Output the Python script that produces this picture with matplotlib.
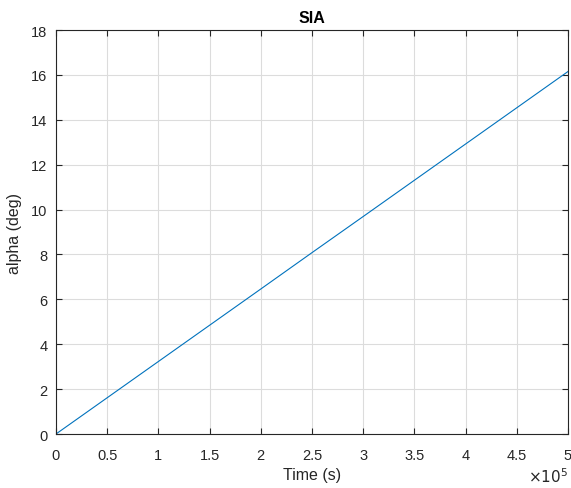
#!/usr/bin/env python3
"""SIA: alpha over time, MATLAB-like look"""
import matplotlib
matplotlib.use('Agg')
import matplotlib.pyplot as plt
from matplotlib.ticker import FuncFormatter, MultipleLocator

# values
time_s = [0.0, 1.0e5, 2.0e5, 2.5e5, 3.0e5, 4.0e5, 5.0e5]
alpha_deg = [0.0, 3.23, 6.46, 8.08, 9.69, 12.92, 16.15]

plt.rcParams['font.family'] = ['Liberation Sans', 'DejaVu Sans']
dark = '#262626'

fig = plt.figure(figsize=(5.71, 4.89), dpi=100)
ax = fig.add_axes([0.098, 0.1104, 0.8967, 0.8262])

ax.plot(time_s, alpha_deg, color='#0072BD', lw=0.8)

ax.set_xlim(0, 5e5)
ax.set_ylim(0, 18)
ax.xaxis.set_major_locator(MultipleLocator(0.5e5))
ax.yaxis.set_major_locator(MultipleLocator(2))
ax.xaxis.set_major_formatter(FuncFormatter(lambda v, p: f'{v / 1e5:g}'))

ax.grid(True, color='#dcdcdc', lw=0.8)
ax.set_axisbelow(True)
for s in ax.spines.values():
    s.set_color(dark)
    s.set_linewidth(0.8)
ax.tick_params(direction='in', top=True, right=True, length=4, width=0.8,
               colors=dark, labelsize=10.5)
ax.tick_params(axis='x', pad=10)
ax.tick_params(axis='y', pad=6)

ax.set_xlabel('Time (s)', fontsize=11.5, color=dark, labelpad=4)
ax.set_ylabel('alpha (deg)', fontsize=11.5, color=dark, labelpad=7)
ax.set_title('SIA', fontsize=11.5, fontweight='bold', color='black', pad=6)

ax.text(1.0, -0.08, r'$\times10^{5}$', transform=ax.transAxes, ha='right',
        va='top', fontsize=11, color=dark)

fig.savefig('out.png', dpi=100)
